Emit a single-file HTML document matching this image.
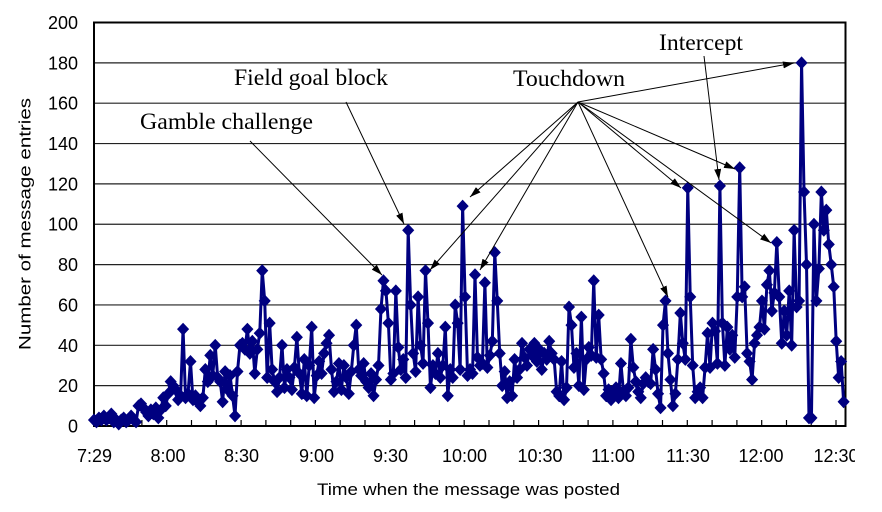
<!DOCTYPE html>
<html><head><meta charset="utf-8"><style>
html,body{margin:0;padding:0;background:#fff;}
svg{display:block;}
</style></head><body>
<svg width="882" height="512" viewBox="0 0 882 512" xmlns="http://www.w3.org/2000/svg">
<defs>
<clipPath id="clipR"><rect x="0" y="0" width="855" height="512"/></clipPath>
<marker id="ah" markerWidth="11" markerHeight="7" refX="11" refY="3.5" orient="auto" markerUnits="userSpaceOnUse"><path d="M0,0 L11,3.5 L0,7 Z" fill="#000"/></marker>
</defs>
<rect x="0" y="0" width="882" height="512" fill="#fff"/>
<g stroke="#222" stroke-width="1.2">
<line x1="94" y1="385.65" x2="845.5" y2="385.65"/>
<line x1="94" y1="345.3" x2="845.5" y2="345.3"/>
<line x1="94" y1="304.95" x2="845.5" y2="304.95"/>
<line x1="94" y1="264.6" x2="845.5" y2="264.6"/>
<line x1="94" y1="224.25" x2="845.5" y2="224.25"/>
<line x1="94" y1="183.9" x2="845.5" y2="183.9"/>
<line x1="94" y1="143.55" x2="845.5" y2="143.55"/>
<line x1="94" y1="103.2" x2="845.5" y2="103.2"/>
<line x1="94" y1="62.85" x2="845.5" y2="62.85"/>
</g>
<path stroke="#000" stroke-width="1.2" fill="none" d="M117.1 426v-6M141.9 426v-6M166.7 426v-6M191.5 426v-6M216.3 426v-6M241.1 426v-6M265.9 426v-6M290.7 426v-6M315.4 426v-6M340.2 426v-6M365 426v-6M389.8 426v-6M414.6 426v-6M439.4 426v-6M464.2 426v-6M489 426v-6M513.8 426v-6M538.6 426v-6M563.3 426v-6M588.1 426v-6M612.9 426v-6M637.7 426v-6M662.5 426v-6M687.3 426v-6M712.1 426v-6M736.9 426v-6M761.7 426v-6M786.5 426v-6M811.2 426v-6M836 426v-6"/>
<rect x="94" y="22.5" width="751.5" height="403.5" fill="none" stroke="#000" stroke-width="2"/>
<g transform="matrix(2.474 0 0 -2.0175 94 426)">
<polyline fill="none" stroke="#000080" stroke-width="3" stroke-linejoin="round" vector-effect="non-scaling-stroke" points="0,3 1,2 2,4 3,3 4,5 5,3 6,4 7,6 8,2 9,3
10,1 11,3 12,4 13,2 14,3 15,5 16,3 17,2 18,10 19,11
20,9 21,7 22,5 23,8 24,6 25,9 26,4 27,8 28,14 29,10
30,16 31,22 32,20 33,18 34,13 35,15 36,48 37,14 38,16 39,32
40,13 41,15 42,12 43,10 44,14 45,28 46,22 47,35 48,25 49,40
50,24 51,22 52,12 53,27 54,18 55,25 56,15 57,5 58,27 59,40
60,41 61,38 62,48 63,36 64,42 65,26 66,38 67,46 68,77 69,62
70,24 71,51 72,28 73,22 74,17 75,24 76,40 77,19 78,28 79,24
80,18 81,29 82,44 83,26 84,16 85,33 86,15 87,30 88,49 89,14
90,25 91,32 92,26 93,36 94,41 95,45 96,28 97,17 98,22 99,31
100,18 101,30 102,24 103,16 104,27 105,40 106,50 107,28 108,25 109,31
110,22 111,19 112,26 113,15 114,23 115,30 116,58 117,72 118,67 119,51
120,23 121,26 122,67 123,39 124,28 125,33 126,24 127,97 128,60 129,36
130,27 131,64 132,40 133,31 134,77 135,51 136,19 137,30 138,26 139,36
140,24 141,30 142,49 143,15 144,28 145,24 146,60 147,51 148,28 149,109
150,64 151,25 152,28 153,26 154,75 155,34 156,30 157,31 158,71 159,29
160,35 161,42 162,86 163,62 164,36 165,20 166,27 167,14 168,22 169,15
170,33 171,24 172,28 173,41 174,34 175,30 176,38 177,35 178,41 179,32
180,38 181,28 182,36 183,33 184,42 185,36 186,33 187,17 188,15 189,32
190,13 191,19 192,59 193,50 194,29 195,36 196,20 197,54 198,18 199,33
200,39 201,35 202,72 203,34 204,55 205,33 206,26 207,15 208,18 209,13
210,16 211,19 212,14 213,31 214,17 215,15 216,19 217,43 218,29 219,22
220,17 221,14 222,21 223,24 224,22 225,21 226,38 227,28 228,16 229,9
230,50 231,62 232,36 233,23 234,10 235,16 236,33 237,56 238,41 239,33
240,118 241,64 242,30 243,14 244,17 245,19 246,14 247,29 248,46 249,29
250,51 251,47 252,31 253,119 254,51 255,30 256,49 257,38 258,45 259,34
260,64 261,128 262,64 263,69 264,36 265,32 266,23 267,41 268,45 269,49
270,62 271,48 272,70 273,77 274,57 275,66 276,91 277,64 278,41 279,57
280,45 281,67 282,40 283,97 284,59 285,62 286,180 287,116 288,80 289,4
290,4 291,100 292,62 293,78 294,116 295,97 296,107 297,90 298,80 299,69
300,42 301,24 302,32 303,12"/>
<path fill="#000080" d="M0 3m0 3.2l2.45-3.2-2.45-3.2-2.45 3.2zM1 2m0 3.2l2.45-3.2-2.45-3.2-2.45 3.2zM2 4m0 3.2l2.45-3.2-2.45-3.2-2.45 3.2zM3 3m0 3.2l2.45-3.2-2.45-3.2-2.45 3.2zM4 5m0 3.2l2.45-3.2-2.45-3.2-2.45 3.2zM5 3m0 3.2l2.45-3.2-2.45-3.2-2.45 3.2zM6 4m0 3.2l2.45-3.2-2.45-3.2-2.45 3.2zM7 6m0 3.2l2.45-3.2-2.45-3.2-2.45 3.2zM8 2m0 3.2l2.45-3.2-2.45-3.2-2.45 3.2zM9 3m0 3.2l2.45-3.2-2.45-3.2-2.45 3.2z
M10 1m0 3.2l2.45-3.2-2.45-3.2-2.45 3.2zM11 3m0 3.2l2.45-3.2-2.45-3.2-2.45 3.2zM12 4m0 3.2l2.45-3.2-2.45-3.2-2.45 3.2zM13 2m0 3.2l2.45-3.2-2.45-3.2-2.45 3.2zM14 3m0 3.2l2.45-3.2-2.45-3.2-2.45 3.2zM15 5m0 3.2l2.45-3.2-2.45-3.2-2.45 3.2zM16 3m0 3.2l2.45-3.2-2.45-3.2-2.45 3.2zM17 2m0 3.2l2.45-3.2-2.45-3.2-2.45 3.2zM18 10m0 3.2l2.45-3.2-2.45-3.2-2.45 3.2zM19 11m0 3.2l2.45-3.2-2.45-3.2-2.45 3.2z
M20 9m0 3.2l2.45-3.2-2.45-3.2-2.45 3.2zM21 7m0 3.2l2.45-3.2-2.45-3.2-2.45 3.2zM22 5m0 3.2l2.45-3.2-2.45-3.2-2.45 3.2zM23 8m0 3.2l2.45-3.2-2.45-3.2-2.45 3.2zM24 6m0 3.2l2.45-3.2-2.45-3.2-2.45 3.2zM25 9m0 3.2l2.45-3.2-2.45-3.2-2.45 3.2zM26 4m0 3.2l2.45-3.2-2.45-3.2-2.45 3.2zM27 8m0 3.2l2.45-3.2-2.45-3.2-2.45 3.2zM28 14m0 3.2l2.45-3.2-2.45-3.2-2.45 3.2zM29 10m0 3.2l2.45-3.2-2.45-3.2-2.45 3.2z
M30 16m0 3.2l2.45-3.2-2.45-3.2-2.45 3.2zM31 22m0 3.2l2.45-3.2-2.45-3.2-2.45 3.2zM32 20m0 3.2l2.45-3.2-2.45-3.2-2.45 3.2zM33 18m0 3.2l2.45-3.2-2.45-3.2-2.45 3.2zM34 13m0 3.2l2.45-3.2-2.45-3.2-2.45 3.2zM35 15m0 3.2l2.45-3.2-2.45-3.2-2.45 3.2zM36 48m0 3.2l2.45-3.2-2.45-3.2-2.45 3.2zM37 14m0 3.2l2.45-3.2-2.45-3.2-2.45 3.2zM38 16m0 3.2l2.45-3.2-2.45-3.2-2.45 3.2zM39 32m0 3.2l2.45-3.2-2.45-3.2-2.45 3.2z
M40 13m0 3.2l2.45-3.2-2.45-3.2-2.45 3.2zM41 15m0 3.2l2.45-3.2-2.45-3.2-2.45 3.2zM42 12m0 3.2l2.45-3.2-2.45-3.2-2.45 3.2zM43 10m0 3.2l2.45-3.2-2.45-3.2-2.45 3.2zM44 14m0 3.2l2.45-3.2-2.45-3.2-2.45 3.2zM45 28m0 3.2l2.45-3.2-2.45-3.2-2.45 3.2zM46 22m0 3.2l2.45-3.2-2.45-3.2-2.45 3.2zM47 35m0 3.2l2.45-3.2-2.45-3.2-2.45 3.2zM48 25m0 3.2l2.45-3.2-2.45-3.2-2.45 3.2zM49 40m0 3.2l2.45-3.2-2.45-3.2-2.45 3.2z
M50 24m0 3.2l2.45-3.2-2.45-3.2-2.45 3.2zM51 22m0 3.2l2.45-3.2-2.45-3.2-2.45 3.2zM52 12m0 3.2l2.45-3.2-2.45-3.2-2.45 3.2zM53 27m0 3.2l2.45-3.2-2.45-3.2-2.45 3.2zM54 18m0 3.2l2.45-3.2-2.45-3.2-2.45 3.2zM55 25m0 3.2l2.45-3.2-2.45-3.2-2.45 3.2zM56 15m0 3.2l2.45-3.2-2.45-3.2-2.45 3.2zM57 5m0 3.2l2.45-3.2-2.45-3.2-2.45 3.2zM58 27m0 3.2l2.45-3.2-2.45-3.2-2.45 3.2zM59 40m0 3.2l2.45-3.2-2.45-3.2-2.45 3.2z
M60 41m0 3.2l2.45-3.2-2.45-3.2-2.45 3.2zM61 38m0 3.2l2.45-3.2-2.45-3.2-2.45 3.2zM62 48m0 3.2l2.45-3.2-2.45-3.2-2.45 3.2zM63 36m0 3.2l2.45-3.2-2.45-3.2-2.45 3.2zM64 42m0 3.2l2.45-3.2-2.45-3.2-2.45 3.2zM65 26m0 3.2l2.45-3.2-2.45-3.2-2.45 3.2zM66 38m0 3.2l2.45-3.2-2.45-3.2-2.45 3.2zM67 46m0 3.2l2.45-3.2-2.45-3.2-2.45 3.2zM68 77m0 3.2l2.45-3.2-2.45-3.2-2.45 3.2zM69 62m0 3.2l2.45-3.2-2.45-3.2-2.45 3.2z
M70 24m0 3.2l2.45-3.2-2.45-3.2-2.45 3.2zM71 51m0 3.2l2.45-3.2-2.45-3.2-2.45 3.2zM72 28m0 3.2l2.45-3.2-2.45-3.2-2.45 3.2zM73 22m0 3.2l2.45-3.2-2.45-3.2-2.45 3.2zM74 17m0 3.2l2.45-3.2-2.45-3.2-2.45 3.2zM75 24m0 3.2l2.45-3.2-2.45-3.2-2.45 3.2zM76 40m0 3.2l2.45-3.2-2.45-3.2-2.45 3.2zM77 19m0 3.2l2.45-3.2-2.45-3.2-2.45 3.2zM78 28m0 3.2l2.45-3.2-2.45-3.2-2.45 3.2zM79 24m0 3.2l2.45-3.2-2.45-3.2-2.45 3.2z
M80 18m0 3.2l2.45-3.2-2.45-3.2-2.45 3.2zM81 29m0 3.2l2.45-3.2-2.45-3.2-2.45 3.2zM82 44m0 3.2l2.45-3.2-2.45-3.2-2.45 3.2zM83 26m0 3.2l2.45-3.2-2.45-3.2-2.45 3.2zM84 16m0 3.2l2.45-3.2-2.45-3.2-2.45 3.2zM85 33m0 3.2l2.45-3.2-2.45-3.2-2.45 3.2zM86 15m0 3.2l2.45-3.2-2.45-3.2-2.45 3.2zM87 30m0 3.2l2.45-3.2-2.45-3.2-2.45 3.2zM88 49m0 3.2l2.45-3.2-2.45-3.2-2.45 3.2zM89 14m0 3.2l2.45-3.2-2.45-3.2-2.45 3.2z
M90 25m0 3.2l2.45-3.2-2.45-3.2-2.45 3.2zM91 32m0 3.2l2.45-3.2-2.45-3.2-2.45 3.2zM92 26m0 3.2l2.45-3.2-2.45-3.2-2.45 3.2zM93 36m0 3.2l2.45-3.2-2.45-3.2-2.45 3.2zM94 41m0 3.2l2.45-3.2-2.45-3.2-2.45 3.2zM95 45m0 3.2l2.45-3.2-2.45-3.2-2.45 3.2zM96 28m0 3.2l2.45-3.2-2.45-3.2-2.45 3.2zM97 17m0 3.2l2.45-3.2-2.45-3.2-2.45 3.2zM98 22m0 3.2l2.45-3.2-2.45-3.2-2.45 3.2zM99 31m0 3.2l2.45-3.2-2.45-3.2-2.45 3.2z
M100 18m0 3.2l2.45-3.2-2.45-3.2-2.45 3.2zM101 30m0 3.2l2.45-3.2-2.45-3.2-2.45 3.2zM102 24m0 3.2l2.45-3.2-2.45-3.2-2.45 3.2zM103 16m0 3.2l2.45-3.2-2.45-3.2-2.45 3.2zM104 27m0 3.2l2.45-3.2-2.45-3.2-2.45 3.2zM105 40m0 3.2l2.45-3.2-2.45-3.2-2.45 3.2zM106 50m0 3.2l2.45-3.2-2.45-3.2-2.45 3.2zM107 28m0 3.2l2.45-3.2-2.45-3.2-2.45 3.2zM108 25m0 3.2l2.45-3.2-2.45-3.2-2.45 3.2zM109 31m0 3.2l2.45-3.2-2.45-3.2-2.45 3.2z
M110 22m0 3.2l2.45-3.2-2.45-3.2-2.45 3.2zM111 19m0 3.2l2.45-3.2-2.45-3.2-2.45 3.2zM112 26m0 3.2l2.45-3.2-2.45-3.2-2.45 3.2zM113 15m0 3.2l2.45-3.2-2.45-3.2-2.45 3.2zM114 23m0 3.2l2.45-3.2-2.45-3.2-2.45 3.2zM115 30m0 3.2l2.45-3.2-2.45-3.2-2.45 3.2zM116 58m0 3.2l2.45-3.2-2.45-3.2-2.45 3.2zM117 72m0 3.2l2.45-3.2-2.45-3.2-2.45 3.2zM118 67m0 3.2l2.45-3.2-2.45-3.2-2.45 3.2zM119 51m0 3.2l2.45-3.2-2.45-3.2-2.45 3.2z
M120 23m0 3.2l2.45-3.2-2.45-3.2-2.45 3.2zM121 26m0 3.2l2.45-3.2-2.45-3.2-2.45 3.2zM122 67m0 3.2l2.45-3.2-2.45-3.2-2.45 3.2zM123 39m0 3.2l2.45-3.2-2.45-3.2-2.45 3.2zM124 28m0 3.2l2.45-3.2-2.45-3.2-2.45 3.2zM125 33m0 3.2l2.45-3.2-2.45-3.2-2.45 3.2zM126 24m0 3.2l2.45-3.2-2.45-3.2-2.45 3.2zM127 97m0 3.2l2.45-3.2-2.45-3.2-2.45 3.2zM128 60m0 3.2l2.45-3.2-2.45-3.2-2.45 3.2zM129 36m0 3.2l2.45-3.2-2.45-3.2-2.45 3.2z
M130 27m0 3.2l2.45-3.2-2.45-3.2-2.45 3.2zM131 64m0 3.2l2.45-3.2-2.45-3.2-2.45 3.2zM132 40m0 3.2l2.45-3.2-2.45-3.2-2.45 3.2zM133 31m0 3.2l2.45-3.2-2.45-3.2-2.45 3.2zM134 77m0 3.2l2.45-3.2-2.45-3.2-2.45 3.2zM135 51m0 3.2l2.45-3.2-2.45-3.2-2.45 3.2zM136 19m0 3.2l2.45-3.2-2.45-3.2-2.45 3.2zM137 30m0 3.2l2.45-3.2-2.45-3.2-2.45 3.2zM138 26m0 3.2l2.45-3.2-2.45-3.2-2.45 3.2zM139 36m0 3.2l2.45-3.2-2.45-3.2-2.45 3.2z
M140 24m0 3.2l2.45-3.2-2.45-3.2-2.45 3.2zM141 30m0 3.2l2.45-3.2-2.45-3.2-2.45 3.2zM142 49m0 3.2l2.45-3.2-2.45-3.2-2.45 3.2zM143 15m0 3.2l2.45-3.2-2.45-3.2-2.45 3.2zM144 28m0 3.2l2.45-3.2-2.45-3.2-2.45 3.2zM145 24m0 3.2l2.45-3.2-2.45-3.2-2.45 3.2zM146 60m0 3.2l2.45-3.2-2.45-3.2-2.45 3.2zM147 51m0 3.2l2.45-3.2-2.45-3.2-2.45 3.2zM148 28m0 3.2l2.45-3.2-2.45-3.2-2.45 3.2zM149 109m0 3.2l2.45-3.2-2.45-3.2-2.45 3.2z
M150 64m0 3.2l2.45-3.2-2.45-3.2-2.45 3.2zM151 25m0 3.2l2.45-3.2-2.45-3.2-2.45 3.2zM152 28m0 3.2l2.45-3.2-2.45-3.2-2.45 3.2zM153 26m0 3.2l2.45-3.2-2.45-3.2-2.45 3.2zM154 75m0 3.2l2.45-3.2-2.45-3.2-2.45 3.2zM155 34m0 3.2l2.45-3.2-2.45-3.2-2.45 3.2zM156 30m0 3.2l2.45-3.2-2.45-3.2-2.45 3.2zM157 31m0 3.2l2.45-3.2-2.45-3.2-2.45 3.2zM158 71m0 3.2l2.45-3.2-2.45-3.2-2.45 3.2zM159 29m0 3.2l2.45-3.2-2.45-3.2-2.45 3.2z
M160 35m0 3.2l2.45-3.2-2.45-3.2-2.45 3.2zM161 42m0 3.2l2.45-3.2-2.45-3.2-2.45 3.2zM162 86m0 3.2l2.45-3.2-2.45-3.2-2.45 3.2zM163 62m0 3.2l2.45-3.2-2.45-3.2-2.45 3.2zM164 36m0 3.2l2.45-3.2-2.45-3.2-2.45 3.2zM165 20m0 3.2l2.45-3.2-2.45-3.2-2.45 3.2zM166 27m0 3.2l2.45-3.2-2.45-3.2-2.45 3.2zM167 14m0 3.2l2.45-3.2-2.45-3.2-2.45 3.2zM168 22m0 3.2l2.45-3.2-2.45-3.2-2.45 3.2zM169 15m0 3.2l2.45-3.2-2.45-3.2-2.45 3.2z
M170 33m0 3.2l2.45-3.2-2.45-3.2-2.45 3.2zM171 24m0 3.2l2.45-3.2-2.45-3.2-2.45 3.2zM172 28m0 3.2l2.45-3.2-2.45-3.2-2.45 3.2zM173 41m0 3.2l2.45-3.2-2.45-3.2-2.45 3.2zM174 34m0 3.2l2.45-3.2-2.45-3.2-2.45 3.2zM175 30m0 3.2l2.45-3.2-2.45-3.2-2.45 3.2zM176 38m0 3.2l2.45-3.2-2.45-3.2-2.45 3.2zM177 35m0 3.2l2.45-3.2-2.45-3.2-2.45 3.2zM178 41m0 3.2l2.45-3.2-2.45-3.2-2.45 3.2zM179 32m0 3.2l2.45-3.2-2.45-3.2-2.45 3.2z
M180 38m0 3.2l2.45-3.2-2.45-3.2-2.45 3.2zM181 28m0 3.2l2.45-3.2-2.45-3.2-2.45 3.2zM182 36m0 3.2l2.45-3.2-2.45-3.2-2.45 3.2zM183 33m0 3.2l2.45-3.2-2.45-3.2-2.45 3.2zM184 42m0 3.2l2.45-3.2-2.45-3.2-2.45 3.2zM185 36m0 3.2l2.45-3.2-2.45-3.2-2.45 3.2zM186 33m0 3.2l2.45-3.2-2.45-3.2-2.45 3.2zM187 17m0 3.2l2.45-3.2-2.45-3.2-2.45 3.2zM188 15m0 3.2l2.45-3.2-2.45-3.2-2.45 3.2zM189 32m0 3.2l2.45-3.2-2.45-3.2-2.45 3.2z
M190 13m0 3.2l2.45-3.2-2.45-3.2-2.45 3.2zM191 19m0 3.2l2.45-3.2-2.45-3.2-2.45 3.2zM192 59m0 3.2l2.45-3.2-2.45-3.2-2.45 3.2zM193 50m0 3.2l2.45-3.2-2.45-3.2-2.45 3.2zM194 29m0 3.2l2.45-3.2-2.45-3.2-2.45 3.2zM195 36m0 3.2l2.45-3.2-2.45-3.2-2.45 3.2zM196 20m0 3.2l2.45-3.2-2.45-3.2-2.45 3.2zM197 54m0 3.2l2.45-3.2-2.45-3.2-2.45 3.2zM198 18m0 3.2l2.45-3.2-2.45-3.2-2.45 3.2zM199 33m0 3.2l2.45-3.2-2.45-3.2-2.45 3.2z
M200 39m0 3.2l2.45-3.2-2.45-3.2-2.45 3.2zM201 35m0 3.2l2.45-3.2-2.45-3.2-2.45 3.2zM202 72m0 3.2l2.45-3.2-2.45-3.2-2.45 3.2zM203 34m0 3.2l2.45-3.2-2.45-3.2-2.45 3.2zM204 55m0 3.2l2.45-3.2-2.45-3.2-2.45 3.2zM205 33m0 3.2l2.45-3.2-2.45-3.2-2.45 3.2zM206 26m0 3.2l2.45-3.2-2.45-3.2-2.45 3.2zM207 15m0 3.2l2.45-3.2-2.45-3.2-2.45 3.2zM208 18m0 3.2l2.45-3.2-2.45-3.2-2.45 3.2zM209 13m0 3.2l2.45-3.2-2.45-3.2-2.45 3.2z
M210 16m0 3.2l2.45-3.2-2.45-3.2-2.45 3.2zM211 19m0 3.2l2.45-3.2-2.45-3.2-2.45 3.2zM212 14m0 3.2l2.45-3.2-2.45-3.2-2.45 3.2zM213 31m0 3.2l2.45-3.2-2.45-3.2-2.45 3.2zM214 17m0 3.2l2.45-3.2-2.45-3.2-2.45 3.2zM215 15m0 3.2l2.45-3.2-2.45-3.2-2.45 3.2zM216 19m0 3.2l2.45-3.2-2.45-3.2-2.45 3.2zM217 43m0 3.2l2.45-3.2-2.45-3.2-2.45 3.2zM218 29m0 3.2l2.45-3.2-2.45-3.2-2.45 3.2zM219 22m0 3.2l2.45-3.2-2.45-3.2-2.45 3.2z
M220 17m0 3.2l2.45-3.2-2.45-3.2-2.45 3.2zM221 14m0 3.2l2.45-3.2-2.45-3.2-2.45 3.2zM222 21m0 3.2l2.45-3.2-2.45-3.2-2.45 3.2zM223 24m0 3.2l2.45-3.2-2.45-3.2-2.45 3.2zM224 22m0 3.2l2.45-3.2-2.45-3.2-2.45 3.2zM225 21m0 3.2l2.45-3.2-2.45-3.2-2.45 3.2zM226 38m0 3.2l2.45-3.2-2.45-3.2-2.45 3.2zM227 28m0 3.2l2.45-3.2-2.45-3.2-2.45 3.2zM228 16m0 3.2l2.45-3.2-2.45-3.2-2.45 3.2zM229 9m0 3.2l2.45-3.2-2.45-3.2-2.45 3.2z
M230 50m0 3.2l2.45-3.2-2.45-3.2-2.45 3.2zM231 62m0 3.2l2.45-3.2-2.45-3.2-2.45 3.2zM232 36m0 3.2l2.45-3.2-2.45-3.2-2.45 3.2zM233 23m0 3.2l2.45-3.2-2.45-3.2-2.45 3.2zM234 10m0 3.2l2.45-3.2-2.45-3.2-2.45 3.2zM235 16m0 3.2l2.45-3.2-2.45-3.2-2.45 3.2zM236 33m0 3.2l2.45-3.2-2.45-3.2-2.45 3.2zM237 56m0 3.2l2.45-3.2-2.45-3.2-2.45 3.2zM238 41m0 3.2l2.45-3.2-2.45-3.2-2.45 3.2zM239 33m0 3.2l2.45-3.2-2.45-3.2-2.45 3.2z
M240 118m0 3.2l2.45-3.2-2.45-3.2-2.45 3.2zM241 64m0 3.2l2.45-3.2-2.45-3.2-2.45 3.2zM242 30m0 3.2l2.45-3.2-2.45-3.2-2.45 3.2zM243 14m0 3.2l2.45-3.2-2.45-3.2-2.45 3.2zM244 17m0 3.2l2.45-3.2-2.45-3.2-2.45 3.2zM245 19m0 3.2l2.45-3.2-2.45-3.2-2.45 3.2zM246 14m0 3.2l2.45-3.2-2.45-3.2-2.45 3.2zM247 29m0 3.2l2.45-3.2-2.45-3.2-2.45 3.2zM248 46m0 3.2l2.45-3.2-2.45-3.2-2.45 3.2zM249 29m0 3.2l2.45-3.2-2.45-3.2-2.45 3.2z
M250 51m0 3.2l2.45-3.2-2.45-3.2-2.45 3.2zM251 47m0 3.2l2.45-3.2-2.45-3.2-2.45 3.2zM252 31m0 3.2l2.45-3.2-2.45-3.2-2.45 3.2zM253 119m0 3.2l2.45-3.2-2.45-3.2-2.45 3.2zM254 51m0 3.2l2.45-3.2-2.45-3.2-2.45 3.2zM255 30m0 3.2l2.45-3.2-2.45-3.2-2.45 3.2zM256 49m0 3.2l2.45-3.2-2.45-3.2-2.45 3.2zM257 38m0 3.2l2.45-3.2-2.45-3.2-2.45 3.2zM258 45m0 3.2l2.45-3.2-2.45-3.2-2.45 3.2zM259 34m0 3.2l2.45-3.2-2.45-3.2-2.45 3.2z
M260 64m0 3.2l2.45-3.2-2.45-3.2-2.45 3.2zM261 128m0 3.2l2.45-3.2-2.45-3.2-2.45 3.2zM262 64m0 3.2l2.45-3.2-2.45-3.2-2.45 3.2zM263 69m0 3.2l2.45-3.2-2.45-3.2-2.45 3.2zM264 36m0 3.2l2.45-3.2-2.45-3.2-2.45 3.2zM265 32m0 3.2l2.45-3.2-2.45-3.2-2.45 3.2zM266 23m0 3.2l2.45-3.2-2.45-3.2-2.45 3.2zM267 41m0 3.2l2.45-3.2-2.45-3.2-2.45 3.2zM268 45m0 3.2l2.45-3.2-2.45-3.2-2.45 3.2zM269 49m0 3.2l2.45-3.2-2.45-3.2-2.45 3.2z
M270 62m0 3.2l2.45-3.2-2.45-3.2-2.45 3.2zM271 48m0 3.2l2.45-3.2-2.45-3.2-2.45 3.2zM272 70m0 3.2l2.45-3.2-2.45-3.2-2.45 3.2zM273 77m0 3.2l2.45-3.2-2.45-3.2-2.45 3.2zM274 57m0 3.2l2.45-3.2-2.45-3.2-2.45 3.2zM275 66m0 3.2l2.45-3.2-2.45-3.2-2.45 3.2zM276 91m0 3.2l2.45-3.2-2.45-3.2-2.45 3.2zM277 64m0 3.2l2.45-3.2-2.45-3.2-2.45 3.2zM278 41m0 3.2l2.45-3.2-2.45-3.2-2.45 3.2zM279 57m0 3.2l2.45-3.2-2.45-3.2-2.45 3.2z
M280 45m0 3.2l2.45-3.2-2.45-3.2-2.45 3.2zM281 67m0 3.2l2.45-3.2-2.45-3.2-2.45 3.2zM282 40m0 3.2l2.45-3.2-2.45-3.2-2.45 3.2zM283 97m0 3.2l2.45-3.2-2.45-3.2-2.45 3.2zM284 59m0 3.2l2.45-3.2-2.45-3.2-2.45 3.2zM285 62m0 3.2l2.45-3.2-2.45-3.2-2.45 3.2zM286 180m0 3.2l2.45-3.2-2.45-3.2-2.45 3.2zM287 116m0 3.2l2.45-3.2-2.45-3.2-2.45 3.2zM288 80m0 3.2l2.45-3.2-2.45-3.2-2.45 3.2zM289 4m0 3.2l2.45-3.2-2.45-3.2-2.45 3.2z
M290 4m0 3.2l2.45-3.2-2.45-3.2-2.45 3.2zM291 100m0 3.2l2.45-3.2-2.45-3.2-2.45 3.2zM292 62m0 3.2l2.45-3.2-2.45-3.2-2.45 3.2zM293 78m0 3.2l2.45-3.2-2.45-3.2-2.45 3.2zM294 116m0 3.2l2.45-3.2-2.45-3.2-2.45 3.2zM295 97m0 3.2l2.45-3.2-2.45-3.2-2.45 3.2zM296 107m0 3.2l2.45-3.2-2.45-3.2-2.45 3.2zM297 90m0 3.2l2.45-3.2-2.45-3.2-2.45 3.2zM298 80m0 3.2l2.45-3.2-2.45-3.2-2.45 3.2zM299 69m0 3.2l2.45-3.2-2.45-3.2-2.45 3.2z
M300 42m0 3.2l2.45-3.2-2.45-3.2-2.45 3.2zM301 24m0 3.2l2.45-3.2-2.45-3.2-2.45 3.2zM302 32m0 3.2l2.45-3.2-2.45-3.2-2.45 3.2zM303 12m0 3.2l2.45-3.2-2.45-3.2-2.45 3.2z"/>
</g>
<g font-family="'Liberation Sans', sans-serif" font-size="18" fill="#000" text-anchor="end">
<text x="78" y="432.5">0</text>
<text x="78" y="392.1">20</text>
<text x="78" y="351.8">40</text>
<text x="78" y="311.4">60</text>
<text x="78" y="271.1">80</text>
<text x="78" y="230.7">100</text>
<text x="78" y="190.4">120</text>
<text x="78" y="150">140</text>
<text x="78" y="109.7">160</text>
<text x="78" y="69.3">180</text>
<text x="78" y="29">200</text>
</g>
<g font-family="'Liberation Sans', sans-serif" font-size="18" fill="#000" text-anchor="middle" clip-path="url(#clipR)">
<text x="94.5" y="462">7:29</text>
<text x="168" y="462">8:00</text>
<text x="241.5" y="462">8:30</text>
<text x="316.5" y="462">9:00</text>
<text x="390.5" y="462">9:30</text>
<text x="464.5" y="462">10:00</text>
<text x="540" y="462">10:30</text>
<text x="613" y="462">11:00</text>
<text x="688" y="462">11:30</text>
<text x="761" y="462">12:00</text>
<text x="836" y="462">12:30</text>
</g>
<text x="317" y="495" font-family="'Liberation Sans', sans-serif" font-size="17" textLength="303" lengthAdjust="spacingAndGlyphs">Time when the message was posted</text>
<text transform="translate(30.5,224) rotate(-90)" text-anchor="middle" font-family="'Liberation Sans', sans-serif" font-size="17" textLength="252" lengthAdjust="spacingAndGlyphs">Number of message entries</text>
<g font-family="'Liberation Serif', serif" font-size="23" fill="#000">
<text x="140" y="129" textLength="173" lengthAdjust="spacingAndGlyphs">Gamble challenge</text>
<text x="234" y="85" textLength="154" lengthAdjust="spacingAndGlyphs">Field goal block</text>
<text x="513" y="86" textLength="112" lengthAdjust="spacingAndGlyphs">Touchdown</text>
<text x="659" y="50" textLength="84" lengthAdjust="spacingAndGlyphs">Intercept</text>
</g>
<g stroke="#000" stroke-width="1" fill="none" marker-end="url(#ah)">
<line x1="250" y1="141" x2="382" y2="275"/>
<line x1="346" y1="102" x2="404" y2="224"/>
<line x1="578" y1="102" x2="470" y2="197"/>
<line x1="578" y1="102" x2="430" y2="270"/>
<line x1="578" y1="102" x2="480" y2="270"/>
<line x1="578" y1="102" x2="668" y2="297"/>
<line x1="578" y1="102" x2="681" y2="188"/>
<line x1="578" y1="102" x2="735" y2="169"/>
<line x1="578" y1="102" x2="771" y2="243"/>
<line x1="578" y1="102" x2="794" y2="63"/>
<line x1="704" y1="56" x2="719" y2="180"/>
</g>
</svg>
</body></html>
